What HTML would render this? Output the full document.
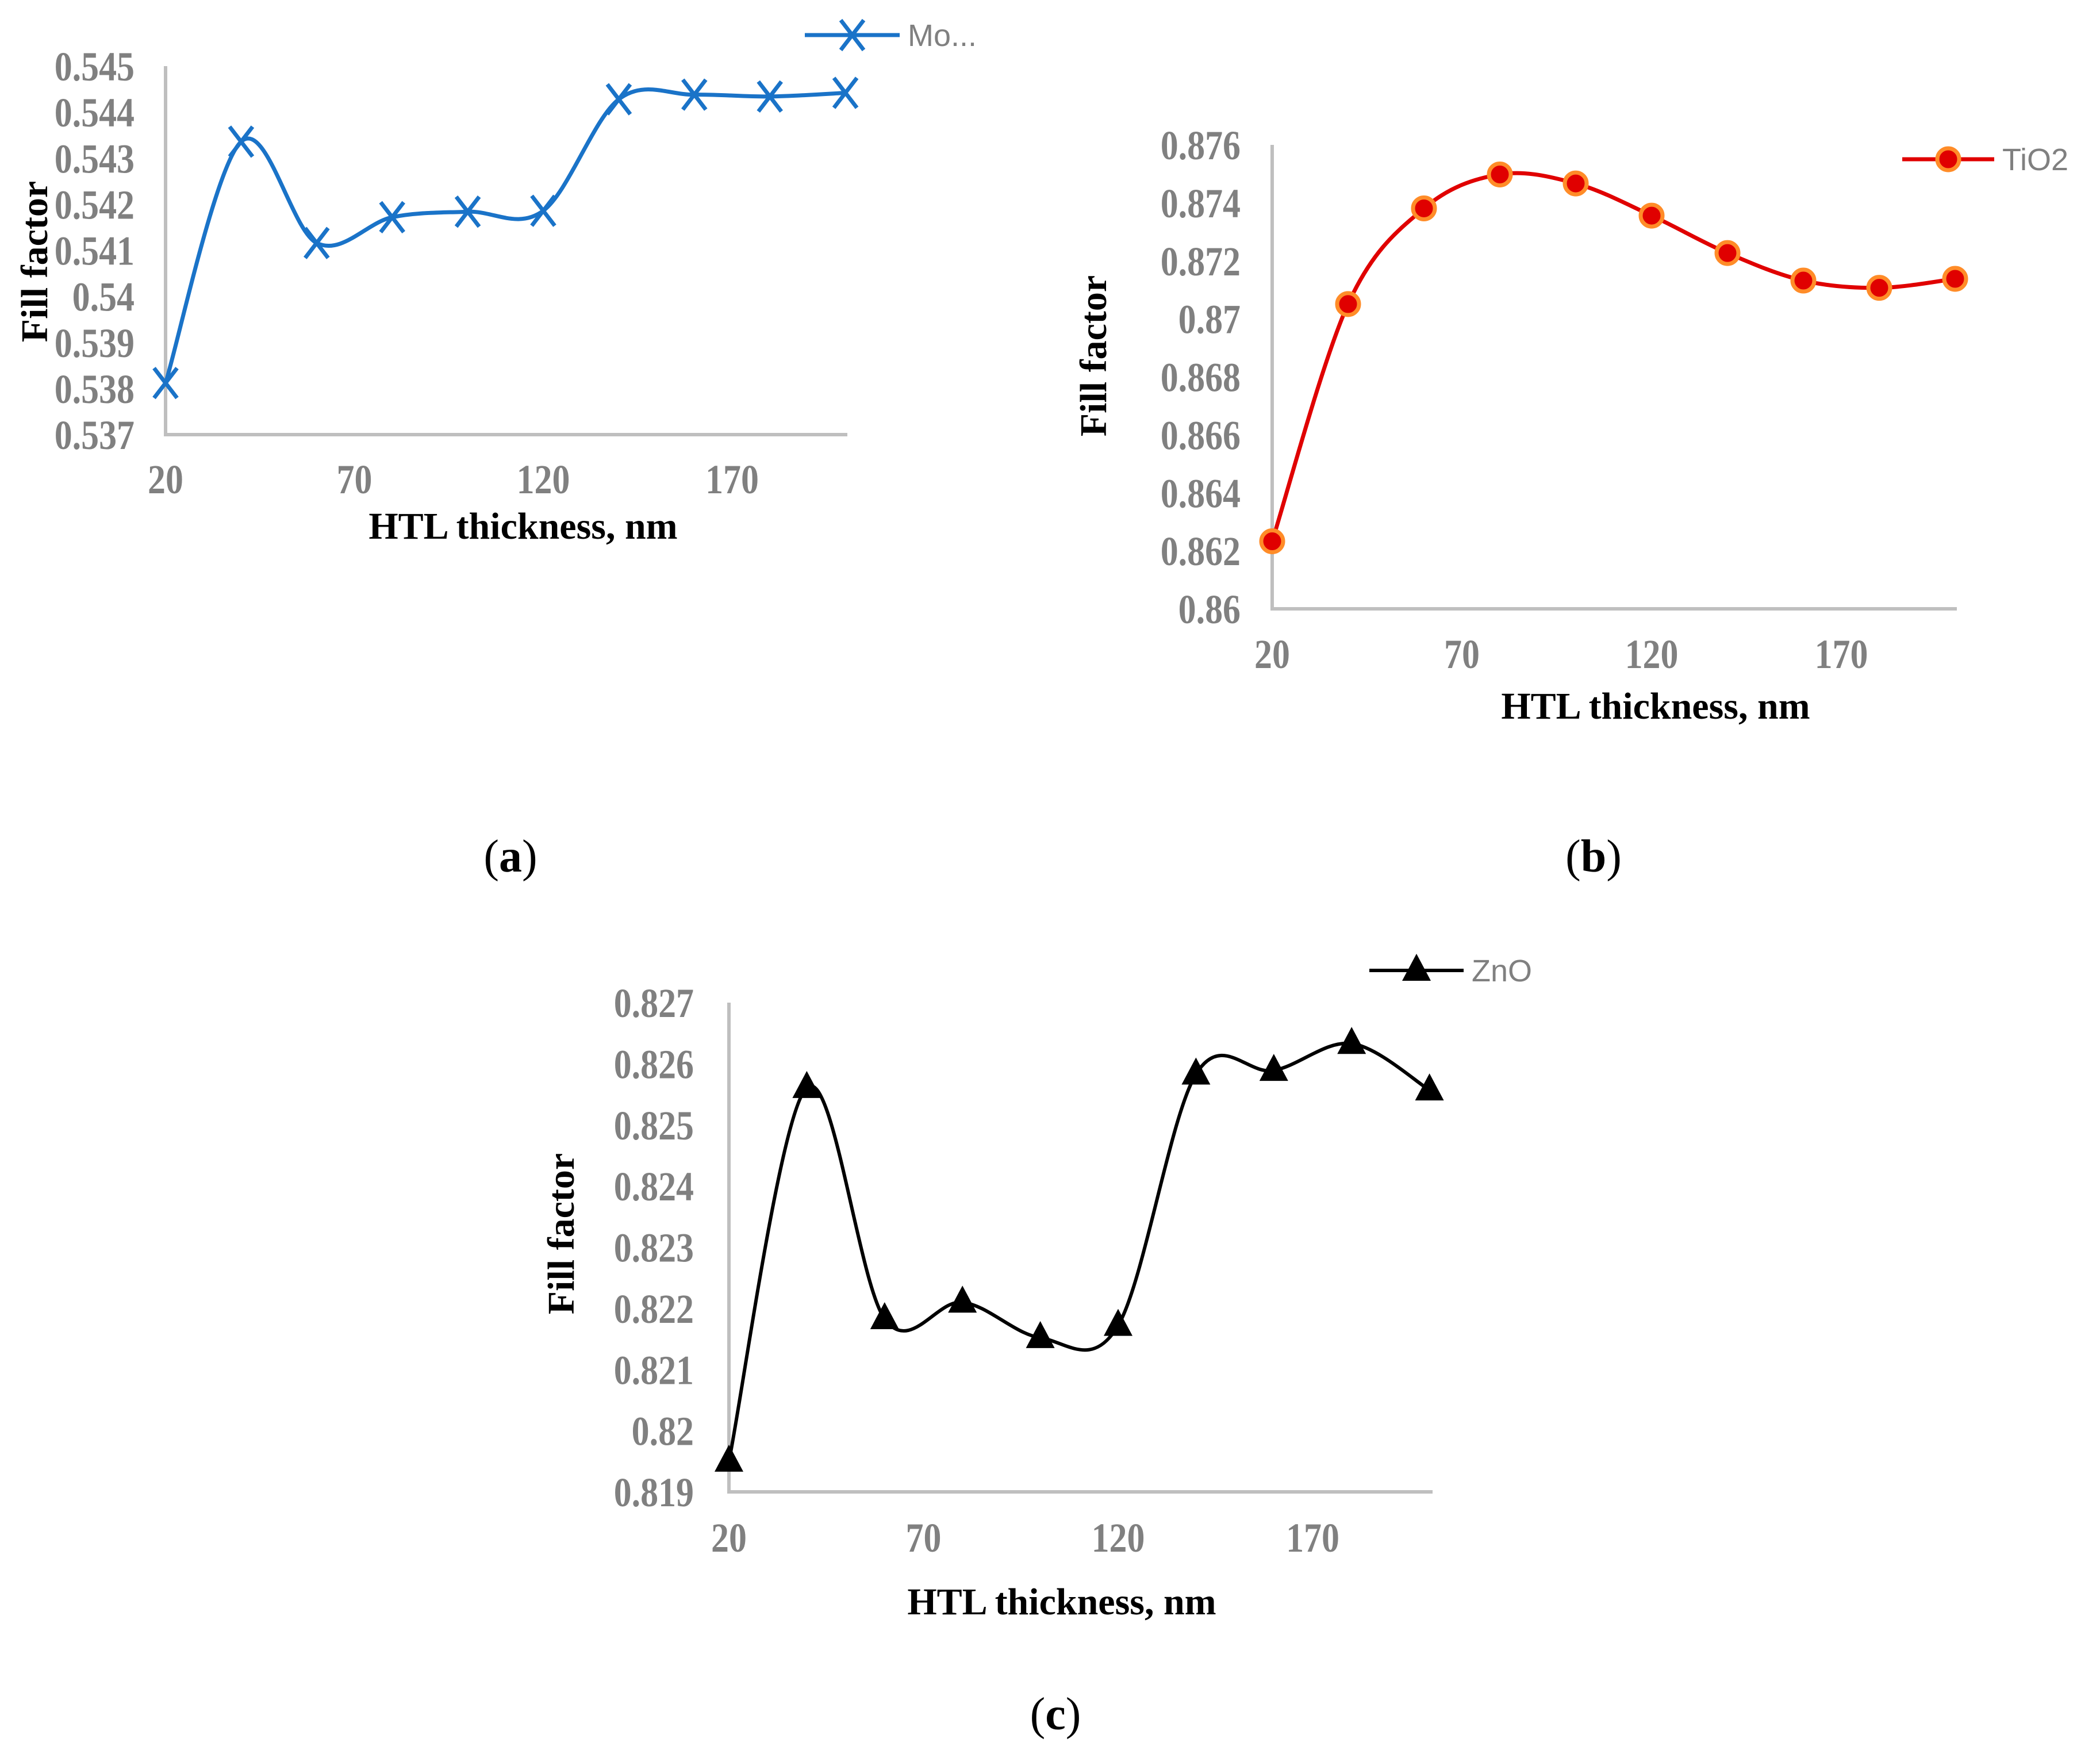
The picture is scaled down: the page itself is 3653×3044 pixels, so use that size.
<!DOCTYPE html>
<html><head><meta charset="utf-8"><style>
html,body{margin:0;padding:0;background:#fff}
svg{display:block}
.tick{font-family:"Liberation Serif",serif;font-weight:bold;font-size:72px;fill:#808080}
.ttl{font-family:"Liberation Serif",serif;font-weight:bold;font-size:66px;fill:#000}
.leg{font-family:"Liberation Sans",sans-serif;font-size:54px;fill:#808080}
.cap{font-family:"Liberation Serif",serif;font-size:80px;fill:#000}
</style></head><body>
<svg id="s" width="3653" height="3044" viewBox="0 0 3653 3044" xmlns="http://www.w3.org/2000/svg"></svg>
<script>
const xValues=[20,40,60,80,100,120,140,160,180,200];
const xTickLabels=[20,70,120,170];
const moValues=[0.53812,0.54336,0.54116,0.54172,0.54184,0.54186,0.54428,0.54438,0.54434,0.54442];
const moTicks=[0.537,0.538,0.539,0.54,0.541,0.542,0.543,0.544,0.545];
const tiValues=[0.86233,0.87051,0.87381,0.87498,0.87467,0.87356,0.87227,0.87132,0.87107,0.87138];
const tiTicks=[0.86,0.862,0.864,0.866,0.868,0.87,0.872,0.874,0.876];
const znValues=[0.8195,0.82561,0.82183,0.8221,0.82152,0.82172,0.82583,0.82589,0.82633,0.82557];
const znTicks=[0.819,0.82,0.821,0.822,0.823,0.824,0.825,0.826,0.827];

const NS="http://www.w3.org/2000/svg";
const svg=document.getElementById('s');
function mk(tag,attrs,parent,text){const e=document.createElementNS(NS,tag);for(const k in attrs)e.setAttribute(k,attrs[k]);if(text!==undefined)e.textContent=text;(parent||svg).appendChild(e);return e;}
function smooth(pts){let d=`M${pts[0][0]},${pts[0][1]}`;for(let i=0;i<pts.length-1;i++){const p0=pts[Math.max(0,i-1)],p1=pts[i],p2=pts[i+1],p3=pts[Math.min(pts.length-1,i+2)];const t=1/6;d+=` C${p1[0]+(p2[0]-p0[0])*t},${p1[1]+(p2[1]-p0[1])*t} ${p2[0]-(p3[0]-p1[0])*t},${p2[1]-(p3[1]-p1[1])*t} ${p2[0]},${p2[1]}`;}return d;}
function marker(g,type,x,y,color){
  if(type==='x'){const r=20;const m=mk('path',{d:`M${x-r},${y-r*1.3}L${x+r},${y+r*1.3}M${x+r},${y-r*1.3}L${x-r},${y+r*1.3}`,stroke:color,'stroke-width':7,fill:'none'},g);}
  else if(type==='o'){const m=mk('circle',{cx:x,cy:y,r:19,fill:'#e00000',stroke:'#ff8c28','stroke-width':7},g);}
  else{const m=mk('path',{d:`M${x},${y-29}L${x+25},${y+18}L${x-25},${y+18}Z`,fill:'#000'},g);}
}
function chart(o){
  const g=mk('g',{});
  const X=v=>o.x0+(v-20)*o.pxu, Y=v=>o.yb-(v-o.ticks[0])/(o.ticks[o.ticks.length-1]-o.ticks[0])*(o.yb-o.yt);
  const ax=mk('path',{d:`M${o.x0},${o.yt}L${o.x0},${o.yb}L${o.xr},${o.yb}`,stroke:'#bfbfbf','stroke-width':6,fill:'none'},g);
  
  o.ticks.forEach(t=>{const e=mk('text',{x:0,y:0,'text-anchor':'end',class:'tick',transform:`translate(${o.lx},${Y(t)+25}) scale(0.86,1)`},g,String(t));});
  xTickLabels.forEach(t=>{const e=mk('text',{x:0,y:0,'text-anchor':'middle',class:'tick',transform:`translate(${X(t)},${o.xly}) scale(0.86,1)`},g,String(t));});
  const xt=mk('text',{x:o.xtx,y:o.xty,'text-anchor':'middle',class:'ttl'},g,'HTL thickness, nm');
  const yt=mk('text',{x:0,y:0,'text-anchor':'middle',class:'ttl',transform:`translate(${o.ytx},${o.yty}) rotate(-90)`},g,'Fill factor');
  const pts=xValues.map((x,i)=>[X(x),Y(o.vals[i])]);
  const ln=mk('path',{d:smooth(pts),stroke:o.color,'stroke-width':o.lw,fill:'none'},g);
  pts.forEach(p=>marker(g,o.mt,p[0],p[1],o.color));
  const lg=mk('g',{},g);
  mk('line',{x1:o.leg[0],y1:o.leg[2],x2:o.leg[1],y2:o.leg[2],stroke:o.color,'stroke-width':o.lw},lg);
  marker(lg,o.mt,(o.leg[0]+o.leg[1])/2,o.leg[2],o.color);
  mk('text',{x:o.leg[1]+14,y:o.leg[2]+19,class:'leg'},lg,o.label);
}
chart({name:'chart-a',x0:288,xr:1474,yt:115,yb:756,pxu:6.57,ticks:moTicks,vals:moValues,lx:234,xly:858,xtx:910,xty:937,ytx:82,yty:455,color:'#1a73c8',lw:7,mt:'x',leg:[1400,1565,61],label:'Mo...'});
chart({name:'chart-b',x0:2213,xr:3404,yt:252,yb:1059,pxu:6.6,ticks:tiTicks,vals:tiValues,lx:2158,xly:1162,xtx:2880,xty:1250,ytx:1924,yty:619,color:'#e00000',lw:7,mt:'o',leg:[3309,3469,277],label:'TiO2'});
chart({name:'chart-c',x0:1268,xr:2492,yt:1744,yb:2595,pxu:6.77,ticks:znTicks,vals:znValues,lx:1207,xly:2699,xtx:1847,xty:2808,ytx:998,yty:2146,color:'#000000',lw:6,mt:'t',leg:[2382,2546,1688],label:'ZnO'});
[['(a)',888,1516],['(b)',2772,1516],['(c)',1836,3008]].forEach(c=>{const e=mk('text',{x:c[1],y:c[2],'text-anchor':'middle',class:'cap'},svg);mk('tspan',{},e,'(');mk('tspan',{'font-weight':'bold'},e,c[0][1]);mk('tspan',{},e,')');});
</script>
</body></html>
